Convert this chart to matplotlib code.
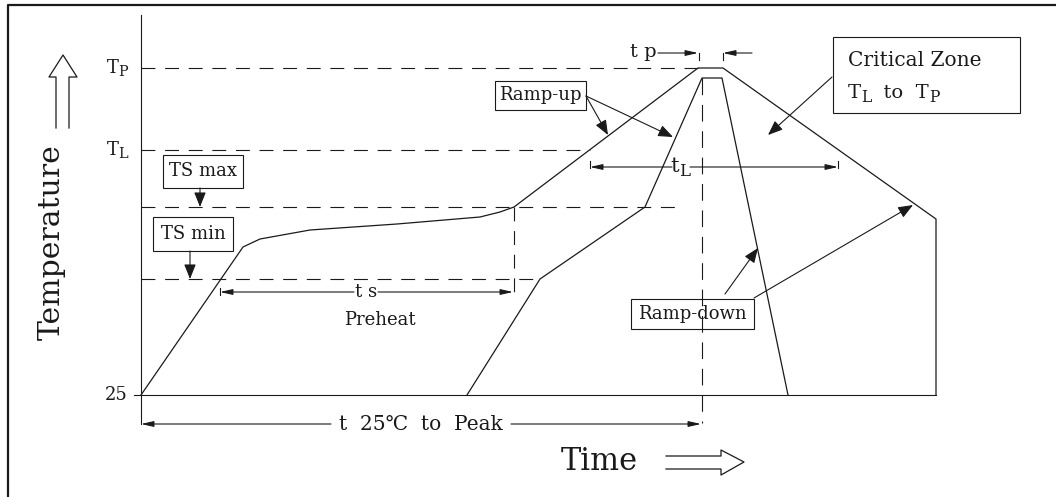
import matplotlib
matplotlib.use("Agg")
import matplotlib.pyplot as plt
from matplotlib.patches import Rectangle

plt.rcParams['font.family'] = ['DejaVu Serif', 'Noto Sans CJK SC']
plt.rcParams['lines.scale_dashes'] = False

# ---- schematic data (diagram units: x = time, y = temperature, drawn on a pixel-like grid) ----
level_bases = ['T', 'T', '25']
level_subs = ['P', 'L', '']
level_y = [68, 150, 395]
dash_levels_y = [68, 150, 207, 279]          # TP, TL, TS max, TS min
dash_levels_xend = [698, 590, 675, 540]

outer_x = [141, 243, 260, 310, 397, 480, 500, 514, 698, 723, 936, 936]
outer_y = [395, 247, 239, 230, 224, 217, 212, 207, 68, 68, 219, 395]
inner_x = [467, 540, 645, 702, 722, 788]
inner_y = [395, 279, 207, 78, 78, 395]
base_x = [141, 936]
base_y = [395, 395]

INK = '#1a1a1a'
fig = plt.figure(figsize=(10.56, 4.97), dpi=100)
ax = fig.add_axes([0, 0, 1, 1])
ax.set_xlim(0, 1056)
ax.set_ylim(497, 0)
ax.axis('off')
renderer = fig.canvas.get_renderer()


def width_px(t):
    return t.get_window_extent(renderer=renderer).width


def sub_text(x, y, parts, fs, ha='left'):
    """parts: list of (string, is_subscript)"""
    objs = []
    cur = x
    for s, is_sub in parts:
        if is_sub:
            t = ax.text(cur, y + 0.22 * fs * 100 / 72, s, ha='left', va='center',
                        fontsize=fs * 0.8, color=INK)
        else:
            t = ax.text(cur, y, s, ha='left', va='center', fontsize=fs, color=INK)
        w = width_px(t)
        cur += w
        objs.append(t)
    total = cur - x
    shift = 0
    if ha == 'right':
        shift = -total
    elif ha == 'center':
        shift = -total / 2
    for t in objs:
        px, py = t.get_position()
        t.set_position((px + shift, py))


# outer frame
ax.plot([8, 8, 1056], [497, 5, 5], color=INK, lw=1.6, solid_capstyle='butt')

# axes
ax.plot([141, 141], [15, 424], color=INK, lw=0.8)
ax.plot(base_x, base_y, color=INK, lw=0.8)
ax.plot([134, 141], [395, 395], color=INK, lw=0.8)

# level labels
for b, s, yv in zip(level_bases, level_subs, level_y):
    parts = [(b, False)] + ([(s, True)] if s else [])
    sub_text(128, yv, parts, 13, ha='right')

# dashed guide lines
for yv, xe in zip(dash_levels_y, dash_levels_xend):
    ax.plot([141, xe], [yv, yv], color=INK, lw=0.8, linestyle=(0, (10, 7)))
ax.plot([514, 514], [207, 297], color=INK, lw=0.8, linestyle=(0, (10, 7)))
ax.plot([702, 702], [78, 423], color=INK, lw=0.8, linestyle=(0, (12, 7)))

# profiles
ax.plot(outer_x, outer_y, color=INK, lw=0.9)
ax.plot(inner_x, inner_y, color=INK, lw=0.9)


def arrow(tail, tip, big=False):
    if big:
        style = '-|>,head_length=0.9,head_width=0.36'
    else:
        style = '-|>,head_length=0.75,head_width=0.17'
    ax.annotate('', xy=tip, xytext=tail,
                arrowprops=dict(arrowstyle=style, mutation_scale=10, color=INK,
                                lw=0.8, shrinkA=0, shrinkB=0))


def tick(x, y0, y1):
    ax.plot([x, x], [y0, y1], color=INK, lw=0.8)


# ts / Preheat
ax.text(366, 292, 't s', ha='center', va='center', fontsize=13, color=INK)
arrow((354, 292), (220, 292))
arrow((378, 292), (513, 292))
tick(220, 288, 295)
ax.text(380, 320, 'Preheat', ha='center', va='center', fontsize=13, color=INK)

# t 25C to Peak
ax.text(421, 424, 't  25\u2103  to  Peak', ha='center', va='center', fontsize=14.5, color=INK)
arrow((331, 424), (141, 424))
arrow((511, 424), (701, 424))

# tp
ax.text(657, 52, 't p', ha='right', va='center', fontsize=14, color=INK)
arrow((658, 53), (698, 53))
tick(699, 53, 60)
arrow((752, 53), (723, 53))
tick(723, 53, 60)

# tL
sub_text(680, 167, [('t', False), ('L', True)], 15, ha='center')
arrow((672, 167), (590, 167))
tick(590, 161, 168)
arrow((690, 167), (838, 167))
tick(838, 161, 168)


# boxes
def box(x0, y0, x1, y1):
    ax.add_patch(Rectangle((x0, y0), x1 - x0, y1 - y0, fill=False, ec=INK, lw=0.8))


box(163, 155, 243, 188)
ax.text(203, 171.5, 'TS max', ha='center', va='center', fontsize=13, color=INK)
arrow((200, 188), (200, 207), big=True)

box(153, 217, 233, 251)
ax.text(193, 234, 'TS min', ha='center', va='center', fontsize=13, color=INK)
arrow((190, 251), (190, 279), big=True)

box(495, 81, 586, 110)
ax.text(540.5, 95.5, 'Ramp-up', ha='center', va='center', fontsize=13, color=INK)
arrow((586, 96), (608, 135), big=True)
arrow((586, 96), (673, 137), big=True)

box(833, 37, 1020, 113)
ax.text(848, 60, 'Critical Zone', ha='left', va='center', fontsize=14.5, color=INK)
sub_text(848, 93, [('T', False), ('L', True), ('  to  T', False), ('P', True)], 14)
arrow((832, 77), (768, 135), big=True)

box(631, 299, 754, 329)
ax.text(692.5, 314, 'Ramp-down', ha='center', va='center', fontsize=13, color=INK)
arrow((725, 294), (758, 248), big=True)
arrow((754, 298), (913, 205), big=True)

# axis titles with hollow arrows
ax.text(52, 242, 'Temperature', rotation=90, ha='center', va='center', fontsize=21.5, color=INK)
ax.plot([56, 56, 49, 63, 77, 69, 69], [128, 77, 77, 55, 77, 77, 128], color=INK, lw=0.9)

ax.text(599, 462, 'Time', ha='center', va='center', fontsize=22, color=INK)
ax.plot([666, 721, 721, 744, 721, 721, 666], [456, 456, 450, 462, 475, 469, 469], color=INK, lw=0.9)

fig.savefig('out.png', dpi=100, facecolor='white')
